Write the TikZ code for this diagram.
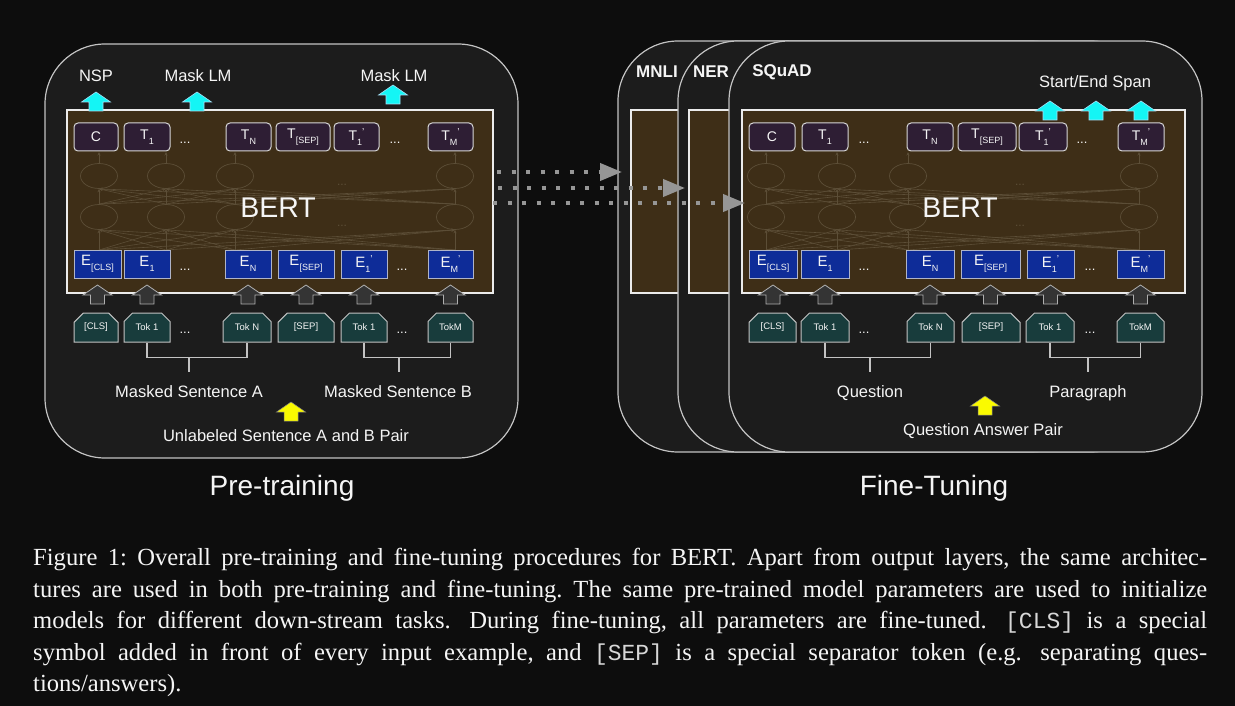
\documentclass[tikz,border=0pt]{standalone}
\usepackage{fontspec}
\setmainfont{Liberation Sans}
\newfontfamily\capserif{Liberation Serif}
\newfontfamily\capmono{Liberation Mono}
\usetikzlibrary{positioning, calc, fit, arrows.meta, shapes.misc, shapes.geometric}

\definecolor{pagebg}{RGB}{13,13,13}
\definecolor{panelbg}{RGB}{28,28,28}
\definecolor{edgegray}{RGB}{195,195,195}
\definecolor{boxline}{RGB}{235,235,235}
\definecolor{bertbg}{RGB}{62,46,23}
\definecolor{netline}{RGB}{92,78,55}
\definecolor{tfill}{RGB}{46,30,52}
\definecolor{tline}{RGB}{215,215,215}
\definecolor{efill}{RGB}{14,44,152}
\definecolor{eline}{RGB}{175,180,200}
\definecolor{tokfill}{RGB}{24,60,60}
\definecolor{dotgray}{RGB}{150,150,150}
\definecolor{outcyan}{RGB}{20,245,245}
\definecolor{inyellow}{RGB}{250,250,0}
\definecolor{ingray}{RGB}{52,52,52}
\definecolor{arrline}{RGB}{175,175,175}
\definecolor{txt}{RGB}{245,245,245}
\definecolor{monotxt}{RGB}{215,215,215}

\newcommand{\lowsub}[1]{\raisebox{-4.5pt}{\fontsize{9}{9}\selectfont #1}}
\newcommand{\lowsubp}[1]{\lowsub{#1}\raisebox{5pt}{\fontsize{10}{10}\selectfont '}}
\newcommand{\capcode}[1]{{\capmono\color{monotxt}\fontsize{23}{31.5}\selectfont #1}}
\newcommand{\capline}[1]{\hbox to 1174pt{\frenchspacing\spaceskip=0.25em plus 0.4em minus 0.05em\relax #1}}
\newcommand{\wide}{\hskip 0.12em plus 0.2em\relax}

\tikzset{
  pics/uparrow/.style={code={
    \filldraw[#1] (-7,0) -- (-7,-9) -- (-14.5,-9) -- (0,-19) -- (14.5,-9) -- (7,-9) -- (7,0) -- cycle;
  }},
  outarrow/.style={fill=outcyan, draw=cyan!35!white, line width=0.6pt},
  inarrow/.style={fill=ingray, draw=arrline, line width=0.8pt},
  pairarrow/.style={fill=inyellow, draw=gray, line width=0.5pt},
}

\begin{document}
\begin{tikzpicture}[x=1pt, y=-1pt,
    panel/.style={draw=edgegray, line width=1.2pt, fill=panelbg, rounded corners=60pt, inner sep=0pt},
    bertbox/.style={draw=boxline, line width=2pt, fill=bertbg, inner sep=0pt},
    tnode/.style={draw=tline, line width=1pt, fill=tfill, rounded corners=4pt, minimum height=28pt,
                  inner sep=0pt, text=txt, font=\fontsize{14}{14}\selectfont},
    enode/.style={draw=eline, line width=1pt, fill=efill, minimum height=28pt,
                  inner sep=0pt, text=txt, font=\fontsize{15}{15}\selectfont},
    toknode/.style={chamfered rectangle, chamfered rectangle corners={north west, north east},
                  chamfered rectangle xsep=5pt, chamfered rectangle ysep=5pt,
                  draw=edgegray, line width=1pt, fill=tokfill, minimum height=29pt,
                  inner sep=0pt, text=txt, font=\fontsize{9.5}{9.5}\selectfont},
    neuron/.style={ellipse, draw=netline, line width=0.7pt, minimum width=37pt, minimum height=25pt, inner sep=0pt},
    netedge/.style={draw=netline, line width=0.6pt, -{Stealth[length=3.5pt, width=3pt]}},
    netdots/.style={text=netline, font=\fontsize{12}{12}\selectfont, inner sep=0pt},
    rowdots/.style={text=txt, font=\fontsize{13}{13}\selectfont, inner sep=0pt},
    lbltext/.style={text=txt, font=\fontsize{16.5}{16.5}\selectfont, anchor=base, inner sep=0pt},
    tasktitle/.style={text=txt, font=\bfseries\fontsize{17}{17}\selectfont, anchor=base, inner sep=0pt},
    bigtitle/.style={text=txt, font=\fontsize{28}{28}\selectfont, anchor=base, inner sep=0pt},
    bertname/.style={text=txt, font=\fontsize{28.5}{28.5}\selectfont, anchor=base, inner sep=0pt},
    bracket/.style={draw=edgegray, line width=1.3pt},
    dotarrow/.style={draw=dotgray, line width=4pt, dash pattern=on 4pt off 10.5pt,
                  -{Triangle[length=22pt, width=17pt]}},
]
\useasboundingbox (0,0) rectangle (1235,706);
\fill[pagebg] (0,0) rectangle (1235,706);

% =================================================================
%  PRE-TRAINING PANEL
% =================================================================
\node[panel, fit={(45,44) (518,458)}] (preP) {};
\node[bertbox, fit={(67,110) (493,293)}] (preB) {};

% faint network inside BERT
\foreach \x [count=\i] in {99,166,235,455} {
  \node[neuron] (la\i) at (\x,176) {};
  \node[neuron] (lb\i) at (\x,217) {};
  \coordinate (lin\i) at (\x,250);
  \coordinate (lout\i) at (\x,152);
}
\foreach \i in {1,...,4} {
  \draw[netedge] (la\i.north) -- (lout\i);
  \foreach \j in {1,...,4} {
    \draw[netedge] (lb\i.north) -- (la\j.south);
    \draw[netedge] (lin\i) -- (lb\j.south);
  }
}
\node[netdots] (ld1) at (342,185) {...};
\node[netdots] (ld2) at (342,226) {...};

% output / embedding / token rows
\foreach \x/\w/\lab [count=\i] in {96/44pt/C, 147/46pt/T\lowsub{1}, 248.5/45pt/T\lowsub{N},
    303/54pt/T\lowsub{[SEP]}, 356.5/45pt/T\lowsubp{1}, 450.5/45pt/T\lowsubp{M}}
  \node[tnode, minimum width=\w] (lt\i) at (\x,137) {\lab};
\foreach \x/\w/\lab [count=\i] in {97.5/47pt/E\lowsub{[CLS]}, 147/46pt/E\lowsub{1}, 248/46pt/E\lowsub{N},
    306/56pt/E\lowsub{[SEP]}, 364/46pt/E\lowsubp{1}, 450.5/45pt/E\lowsubp{M}} {
  \node[enode, minimum width=\w] (le\i) at (\x,264) {\lab};
  \pic at (\x,304) {uparrow=inarrow};
}
\foreach \x/\w/\lab [count=\i] in {96/44pt/[CLS], 147/46pt/Tok 1, 247/48pt/Tok N,
    306/56pt/[SEP], 364/46pt/Tok 1, 450.5/45pt/TokM}
  \node[toknode, minimum width=\w] (lk\i) at (\x,327.5) {\lab};

\node[rowdots] (lr1) at (185,143) {...};
\node[rowdots] (lr2) at (395,143) {...};
\node[rowdots] (lr3) at (185,270) {...};
\node[rowdots] (lr4) at (402,270) {...};
\node[rowdots] (lr5) at (185,333) {...};
\node[rowdots] (lr6) at (402,333) {...};

\node[bertname] (lbert) at (278,218) {BERT};

% outputs
\pic at (96,111)  {uparrow=outarrow};
\pic at (197,111) {uparrow=outarrow};
\pic at (393,104) {uparrow=outarrow};
\node[lbltext] (nsp)  at (96,82)  {NSP};
\node[lbltext] (mlm1) at (198,82) {Mask LM};
\node[lbltext] (mlm2) at (394,82) {Mask LM};

% sentence brackets
\draw[bracket] (lk2.south) -- ++(0,15) -| (lk3.south);
\draw[bracket] (lk5.south) -- ++(0,15) -| (lk6.south);
\coordinate (stemA) at (189,357);
\coordinate (stemB) at (399,357);
\draw[bracket] (stemA) -- ++(0,15);
\draw[bracket] (stemB) -- ++(0,15);
\node[lbltext] (mskA) at (189,397) {Masked Sentence A};
\node[lbltext] (mskB) at (398,397) {Masked Sentence B};
\pic at (291,421) {uparrow=pairarrow};
\node[lbltext] (pairA) at (286,441) {Unlabeled Sentence A and B Pair};
\node[bigtitle] (pretr) at (282,495) {Pre-training};

% =================================================================
%  FINE-TUNING PANELS
% =================================================================
\node[panel, fit={(618,41) (1091,452)}] (mnliP) {};
\node[bertbox, fit={(631,110) (1074,293)}] (mnliB) {};
\node[tasktitle] (mnli) at (657,78) {MNLI};

\node[panel, fit={(678,41) (1151,452)}] (nerP) {};
\node[bertbox, fit={(689,110) (1132,293)}] (nerB) {};
\node[tasktitle] (ner) at (711,78) {NER};

\node[panel, fit={(729,41) (1202,452)}] (sqdP) {};
\node[bertbox, fit={(742,110) (1185,293)}] (sqdB) {};
\node[tasktitle] (squad) at (782,77) {SQuAD};

% faint network inside BERT
\foreach \x [count=\i] in {766,837,908,1139} {
  \node[neuron] (ra\i) at (\x,176) {};
  \node[neuron] (rb\i) at (\x,217) {};
  \coordinate (rin\i) at (\x,250);
  \coordinate (rout\i) at (\x,152);
}
\foreach \i in {1,...,4} {
  \draw[netedge] (ra\i.north) -- (rout\i);
  \foreach \j in {1,...,4} {
    \draw[netedge] (rb\i.north) -- (ra\j.south);
    \draw[netedge] (rin\i) -- (rb\j.south);
  }
}
\node[netdots] (rd1) at (1020,185) {...};
\node[netdots] (rd2) at (1020,226) {...};

\foreach \x/\w/\lab [count=\i] in {772/46pt/C, 825/46pt/T\lowsub{1}, 930/46pt/T\lowsub{N},
    987/58pt/T\lowsub{[SEP]}, 1043/48pt/T\lowsubp{1}, 1141/46pt/T\lowsubp{M}}
  \node[tnode, minimum width=\w] (rt\i) at (\x,137) {\lab};
\foreach \x/\w/\lab [count=\i] in {773/48pt/E\lowsub{[CLS]}, 825/48pt/E\lowsub{1}, 930/48pt/E\lowsub{N},
    990.5/59pt/E\lowsub{[SEP]}, 1050.5/47pt/E\lowsubp{1}, 1140.5/47pt/E\lowsubp{M}} {
  \node[enode, minimum width=\w] (re\i) at (\x,264) {\lab};
  \pic at (\x,304) {uparrow=inarrow};
}
\foreach \x/\w/\lab [count=\i] in {772.5/47pt/[CLS], 825/48pt/Tok 1, 930.5/47pt/Tok N,
    991/58pt/[SEP], 1050/48pt/Tok 1, 1140.5/47pt/TokM}
  \node[toknode, minimum width=\w] (rk\i) at (\x,327.5) {\lab};

\node[rowdots] (rr1) at (864,143) {...};
\node[rowdots] (rr2) at (1082,143) {...};
\node[rowdots] (rr3) at (864,270) {...};
\node[rowdots] (rr4) at (1090,270) {...};
\node[rowdots] (rr5) at (864,333) {...};
\node[rowdots] (rr6) at (1090,333) {...};

\node[bertname] (rbert) at (960,218) {BERT};

% outputs
\pic at (1050,120) {uparrow=outarrow};
\pic at (1096,120) {uparrow=outarrow};
\pic at (1141,120) {uparrow=outarrow};
\node[lbltext] (span) at (1095,88) {Start/End Span};

% question / paragraph brackets
\draw[bracket] (rk2.south) -- ++(0,15) -| (rk3.south);
\draw[bracket] (rk5.south) -- ++(0,15) -| (rk6.south);
\coordinate (stemQ) at (870,357);
\coordinate (stemP) at (1088,357);
\draw[bracket] (stemQ) -- ++(0,15);
\draw[bracket] (stemP) -- ++(0,15);
\node[lbltext] (quest) at (870,397) {Question};
\node[lbltext] (parag) at (1088,397) {Paragraph};
\pic at (985,415) {uparrow=pairarrow};
\node[lbltext] (qapair) at (983,435) {Question Answer Pair};
\node[bigtitle] (finet) at (934,495) {Fine-Tuning};

% =================================================================
%  TRANSFER ARROWS
% =================================================================
\coordinate (tr1s) at (497,172);  \coordinate (tr1e) at (622,172);
\coordinate (tr2s) at (498,188);  \coordinate (tr2e) at (685,188);
\coordinate (tr3s) at (493,203);  \coordinate (tr3e) at (745,203);
\draw[dotarrow] (tr1s) -- (tr1e);
\draw[dotarrow] (tr2s) -- (tr2e);
\draw[dotarrow] (tr3s) -- (tr3e);

% =================================================================
%  CAPTION
% =================================================================
\node[anchor=north west, inner sep=0pt, text=txt, text width=1174pt, align=left,
      font=\capserif\fontsize{24.6}{31.5}\selectfont] (caption) at (33,548) {%
\capline{Figure 1: Overall pre-training and fine-tuning procedures for BERT. Apart from output layers, the same architec-}
\capline{tures are used in both pre-training and fine-tuning. The same pre-trained model parameters are used to initialize}
\capline{models for different down-stream tasks.\wide{} During fine-tuning, all parameters are fine-tuned.\wide{} \capcode{[CLS]} is a special}
\capline{symbol added in front of every input example, and \capcode{[SEP]} is a special separator token (e.g.\wide{} separating ques-}
\capline{tions/answers).\hfill}};
\end{tikzpicture}
\end{document}
